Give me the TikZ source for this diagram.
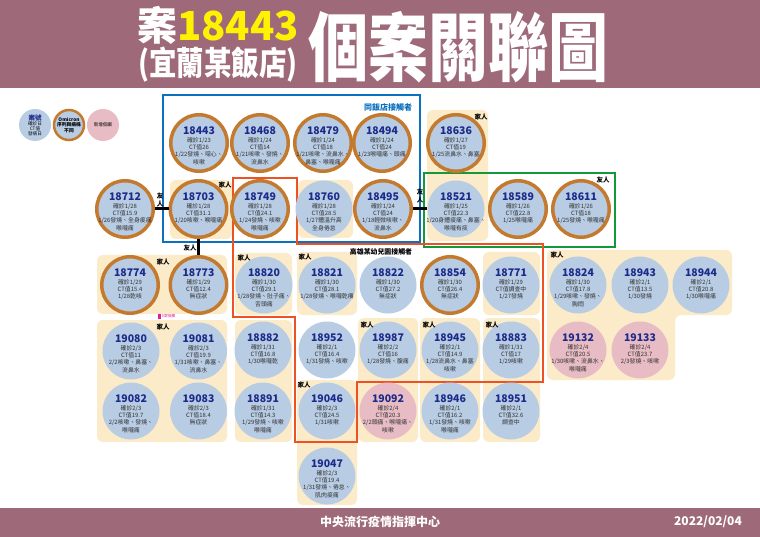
\documentclass[tikz,border=0pt]{standalone}
\usepackage{fontspec}
\setmainfont{Noto Sans CJK TC}
\definecolor{hdr}{HTML}{9E6A7A}
\definecolor{cblue}{HTML}{B8CCE4}
\definecolor{cpink}{HTML}{E8BCC4}
\definecolor{cring}{HTML}{C47A2E}
\definecolor{cbeige}{HTML}{FCEBC8}
\definecolor{cnavy}{HTML}{1C2A8A}
\definecolor{boxblue}{HTML}{0A70C0}
\definecolor{boxgreen}{HTML}{13983A}
\definecolor{boxorange}{HTML}{EE5222}
\definecolor{tyellow}{HTML}{FFF200}
\definecolor{mk}{HTML}{E0208C}
\tikzset{
 plain/.style={circle, fill=cblue, minimum size=57pt, inner sep=0pt},
 ringed/.style={circle, fill=cblue, draw=cring, line width=3.5pt, minimum size=56.5pt, inner sep=0pt},
 newcase/.style={circle, fill=cpink, minimum size=57pt, inner sep=0pt},
 casetext/.style={align=center, inner sep=0pt, font=\fontsize{5.9}{7.3}\selectfont, text=black!80},
 famlabel/.style={font=\fontsize{6.5}{8}\selectfont\bfseries, inner sep=0pt, text=black},
 beige/.style={fill=cbeige, rounded corners=6pt},
 link/.style={line width=3pt, black},
}
\newcommand\casecircle[4]{%
 \node[#3] (c#1) at (#2) {};
 \node[casetext, anchor=north, yshift=16.5pt] (t#1) at (c#1.center) {{\fontsize{10.5}{10.5}\selectfont\bfseries\color{cnavy}#1}\\[0.6pt]#4};}
\begin{document}
\begin{tikzpicture}[x=1pt,y=-1pt]
\useasboundingbox (0,0) rectangle (760,537);
\fill[white] (0,0) rectangle (760,537);
% header / footer
\fill[hdr] (0,0) rectangle (760,88);
\fill[hdr] (0,508) rectangle (760,537);
\node[font=\fontsize{40}{40}\selectfont\bfseries, inner sep=0pt] (title1) at (218,25) {\textcolor{white}{案}\textcolor{tyellow}{18443}};
\node[font=\fontsize{27.5}{27.5}\selectfont\bfseries, inner sep=0pt, text=white] (title2) at (218,65) {\scalebox{1}[1.2]{(宜蘭某飯店)}};
\node[font=\fontsize{60}{60}\selectfont\bfseries, inner sep=0pt, text=white] (title3) at (458,47) {\scalebox{1}[1.25]{個案關聯圖}};
\node[font=\fontsize{12}{12}\selectfont\bfseries, text=white] (foot1) at (380,522) {中央流行疫情指揮中心};
\node[font=\fontsize{12}{12}\selectfont\bfseries, text=white] (foot2) at (708,522) {2022/02/04};
% legend
\node[plain, minimum size=32pt] (lg1) at (35,125) {};
\node[align=center, inner sep=0pt, font=\fontsize{4.6}{5}\selectfont] (lg1t) at (lg1.center) {{\fontsize{6.5}{6.5}\selectfont\bfseries\color{cnavy}案號}\\確診日\\CT值\\發病日};
\node[circle, fill=cblue, draw=cring, line width=2.5pt, minimum size=30pt, inner sep=0pt] (lg2) at (69,125) {};
\node[align=center, inner sep=0pt, font=\fontsize{4.8}{5.6}\selectfont\bfseries] (lg2t) at (lg2.center) {Omicron\\序列與病株\\不同};
\node[newcase, minimum size=32pt] (lg3) at (103,125) {};
\node[inner sep=0pt, font=\fontsize{4.6}{5}\selectfont] (lg3t) at (lg3.center) {新增個案};
% beige backgrounds
\fill[beige] (170,180) rectangle (232,239);
\fill[beige] (298,180) rectangle (353,238);
\fill[beige] (427,110) rectangle (488,241);
\fill[beige] (97,255) rectangle (227,314);
\fill[beige] (235,253) rectangle (292,315);
\fill[beige] (297,252) rectangle (357,315);
\fill[beige] (483,252) rectangle (540,315);
\fill[cbeige, rounded corners=6pt] (547,250) -- (732,250) -- (732,315) -- (675,315) -- (675,380) -- (547,380) -- cycle;
\fill[beige] (97,320) rectangle (227,442);
\fill[beige] (235,320) rectangle (292,442);
\fill[beige] (358,318) rectangle (418,442);
\fill[beige] (420,318) rectangle (480,442);
\fill[beige] (483,318) rectangle (540,442);
\fill[beige] (297,380) rectangle (357,505);
% group boxes
\draw[boxblue, line width=2.2pt] (163,95) rectangle (420,242);
\node[font=\fontsize{8}{8}\selectfont\bfseries, text=boxblue, inner sep=0pt] (bluelbl) at (388,107) {同飯店接觸者};
\draw[boxgreen, line width=2pt] (424,173) rectangle (615,247);
\node[famlabel] (greenlbl) at (603,180) {友人};
\draw[boxorange, line width=2pt] (233,178) -- (297,178) -- (297,244) -- (543,244) -- (543,382) -- (357,382) -- (357,442) -- (295,442) -- (295,317) -- (233,317) -- cycle;
\node[font=\fontsize{6.9}{6.9}\selectfont\bfseries, inner sep=0pt] (orlbl) at (381,252) {高雄某幼兒園接觸者};
% cases row 1
\casecircle{18443}{199,143}{ringed}{確診1/23\\CT值26\\1/22發燒、噁心、\\咳嗽}
\casecircle{18468}{260,143}{ringed}{確診1/24\\CT值14\\1/21咳嗽、發燒、\\流鼻水}
\casecircle{18479}{323,143}{ringed}{確診1/24\\CT值18\\1/21咳嗽、流鼻水、\\鼻塞、喉嚨痛}
\casecircle{18494}{382,143}{ringed}{確診1/24\\CT值24\\1/23喉嚨痛、頭痛}
\casecircle{18636}{456,143}{ringed}{確診1/27\\CT值19\\1/25流鼻水、鼻塞}
% row 2
\casecircle{18712}{125,209}{ringed}{確診1/28\\CT值15.9\\1/26發燒、全身痠痛\\喉嚨痛}
\casecircle{18703}{198.5,209}{ringed}{確診1/28\\CT值31.1\\1/20咳嗽、喉嚨痛}
\casecircle{18749}{260,209}{ringed}{確診1/28\\CT值24.1\\1/24發燒、咳嗽\\喉嚨痛}
\casecircle{18760}{324,209}{plain}{確診1/28\\CT值28.5\\1/27體溫升高\\全身倦怠}
\casecircle{18495}{383,209}{ringed}{確診1/24\\CT值24\\1/18輕微咳嗽、\\流鼻水}
\casecircle{18521}{456,209}{plain}{確診1/25\\CT值22.3\\1/20身體痠痛、鼻塞、\\喉嚨有痰}
\casecircle{18589}{518,209}{ringed}{確診1/26\\CT值22.8\\1/25喉嚨痛}
\casecircle{18611}{581,209}{ringed}{確診1/26\\CT值18\\1/25發燒、喉嚨痛}
% row 3
\casecircle{18774}{130,285}{ringed}{確診1/29\\CT值15.4\\1/28乾咳}
\casecircle{18773}{198.5,285}{ringed}{確診1/29\\CT值12.4\\無症狀}
\casecircle{18820}{264,285}{plain}{確診1/30\\CT值29.1\\1/28發燒、肚子痛、\\舌頭痛}
\casecircle{18821}{327,285}{plain}{確診1/30\\CT值28.1\\1/28發燒、喉嚨乾癢}
\casecircle{18822}{388,285}{plain}{確診1/30\\CT值27.2\\無症狀}
\casecircle{18854}{450,285}{ringed}{確診1/30\\CT值26.4\\無症狀}
\casecircle{18771}{511,285}{plain}{確診1/29\\CT值調查中\\1/27發燒}
\casecircle{18824}{578,285}{plain}{確診1/30\\CT值17.8\\1/29咳嗽、發燒、\\胸悶}
\casecircle{18943}{640,285}{plain}{確診2/1\\CT值13.5\\1/30發燒}
\casecircle{18944}{701,285}{plain}{確診2/1\\CT值20.8\\1/30喉嚨痛}
% row 4
\casecircle{19080}{131,351}{plain}{確診2/3\\CT值11\\2/2咳嗽、鼻塞、\\流鼻水}
\casecircle{19081}{198.5,351}{plain}{確診2/3\\CT值19.9\\1/31咳嗽、鼻塞、\\流鼻水}
\casecircle{18882}{263,350}{plain}{確診1/31\\CT值16.8\\1/30喉嚨乾}
\casecircle{18952}{327,350}{plain}{確診2/1\\CT值16.4\\1/31發燒、咳嗽}
\casecircle{18987}{388,350}{plain}{確診2/2\\CT值16\\1/28發燒、腹痛}
\casecircle{18945}{450,350}{plain}{確診2/1\\CT值14.9\\1/28流鼻水、鼻塞\\咳嗽}
\casecircle{18883}{511,350}{plain}{確診1/31\\CT值17\\1/29咳嗽}
\casecircle{19132}{578,350}{newcase}{確診2/4\\CT值20.5\\1/30咳嗽、流鼻水、\\喉嚨痛}
\casecircle{19133}{640,350}{newcase}{確診2/4\\CT值23.7\\2/3發燒、咳嗽}
% row 5
\casecircle{19082}{131,411}{plain}{確診2/3\\CT值19.7\\2/2咳嗽、發燒、\\喉嚨痛}
\casecircle{19083}{198.5,411}{plain}{確診2/3\\CT值18.4\\無症狀}
\casecircle{18891}{263,411}{plain}{確診1/31\\CT值14.3\\1/29發燒、咳嗽\\喉嚨痛}
\casecircle{19046}{327,411}{plain}{確診2/3\\CT值24.5\\1/31咳嗽}
\casecircle{19092}{388,411}{newcase}{確診2/4\\CT值20.3\\2/2頭痛、喉嚨痛、\\咳嗽}
\casecircle{18946}{450,411}{plain}{確診2/1\\CT值16.2\\1/31發燒、咳嗽\\喉嚨痛}
\casecircle{18951}{511,411}{plain}{確診2/1\\CT值32.6\\調查中}
% row 6
\casecircle{19047}{327,476}{plain}{確診2/3\\CT值19.4\\1/31發燒、倦怠、\\肌肉痠痛}
% connectors
\draw[link] (c18712.east) -- (c18703.west);
\draw[link] (c18495.east) -- (c18521.west);
\draw[link] (c18703.south) -- (c18773.north);
\node[famlabel, align=center] (fr1) at (160,200) {友\\人};
\node[famlabel, align=center] (fr2) at (420,196) {友\\人};
\node[famlabel] (fr3) at (190,248) {友人};
% family labels
\node[famlabel] (f1) at (225,185) {家人};
\node[famlabel] (f2) at (481,117) {家人};
\node[famlabel] (f3) at (163,262) {家人};
\node[famlabel] (f4) at (244,258) {家人};
\node[famlabel] (f5) at (305,257) {家人};
\node[famlabel] (f6) at (557,255) {家人};
\node[famlabel] (f7) at (163,327) {家人};
\node[famlabel] (f8) at (367,325) {家人};
\node[famlabel] (f9) at (429,325) {家人};
\node[famlabel] (f10) at (492,325) {家人};
\node[famlabel] (f11) at (304,385) {家人};
% small marker
\fill[mk] (158,314) rectangle (160.5,319);
\node[font=\fontsize{3.6}{3.6}\selectfont, text=mk, inner sep=0pt, anchor=west] (mklbl) at (162,316.5) {E群接觸};
\end{tikzpicture}
\end{document}
